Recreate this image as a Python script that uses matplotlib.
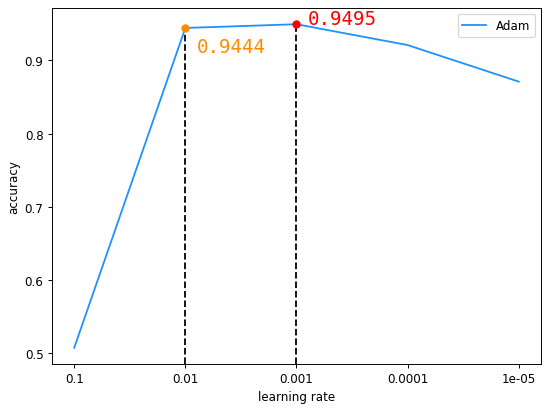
import matplotlib
matplotlib.use('Agg')
import matplotlib.pyplot as plt
import numpy as np

# 学习率与准确率
lr_labels = ['0.1', '0.01', '0.001', '0.0001', '1e-05']
acc_adam = [0.507, 0.9444, 0.9495, 0.921, 0.871]

x = np.arange(len(lr_labels))

fig, ax = plt.subplots(figsize=(6.4, 4.7825), dpi=85.9375)
ax.plot(x, acc_adam, color='dodgerblue', label='Adam')

ymin, ymax = ax.get_ylim()

# 标出两个最好的点
best_i = int(np.argmax(acc_adam))
second_i = 1
ax.vlines([second_i, best_i], ymin, [acc_adam[second_i], acc_adam[best_i]],
          colors='black', linestyles='dashed')
ax.plot([second_i], [acc_adam[second_i]], 'o', color='darkorange', zorder=3)
ax.plot([best_i], [acc_adam[best_i]], 'o', color='red', zorder=3)
ax.text(second_i + 0.1, acc_adam[second_i] - 0.033, f'{acc_adam[second_i]:.4f}',
        color='darkorange', fontsize=16, family='monospace')
ax.text(best_i + 0.1, acc_adam[best_i], f'{acc_adam[best_i]:.4f}',
        color='red', fontsize=16, family='monospace')

ax.set_ylim(ymin, ymax)
ax.set_xticks(x)
ax.set_xticklabels(lr_labels)
ax.set_xlabel('learning rate')
ax.set_ylabel('accuracy')
ax.legend(loc='upper right')

plt.subplots_adjust(left=0.0945, right=0.9836, bottom=0.112, top=0.978)
plt.savefig('out.png')
